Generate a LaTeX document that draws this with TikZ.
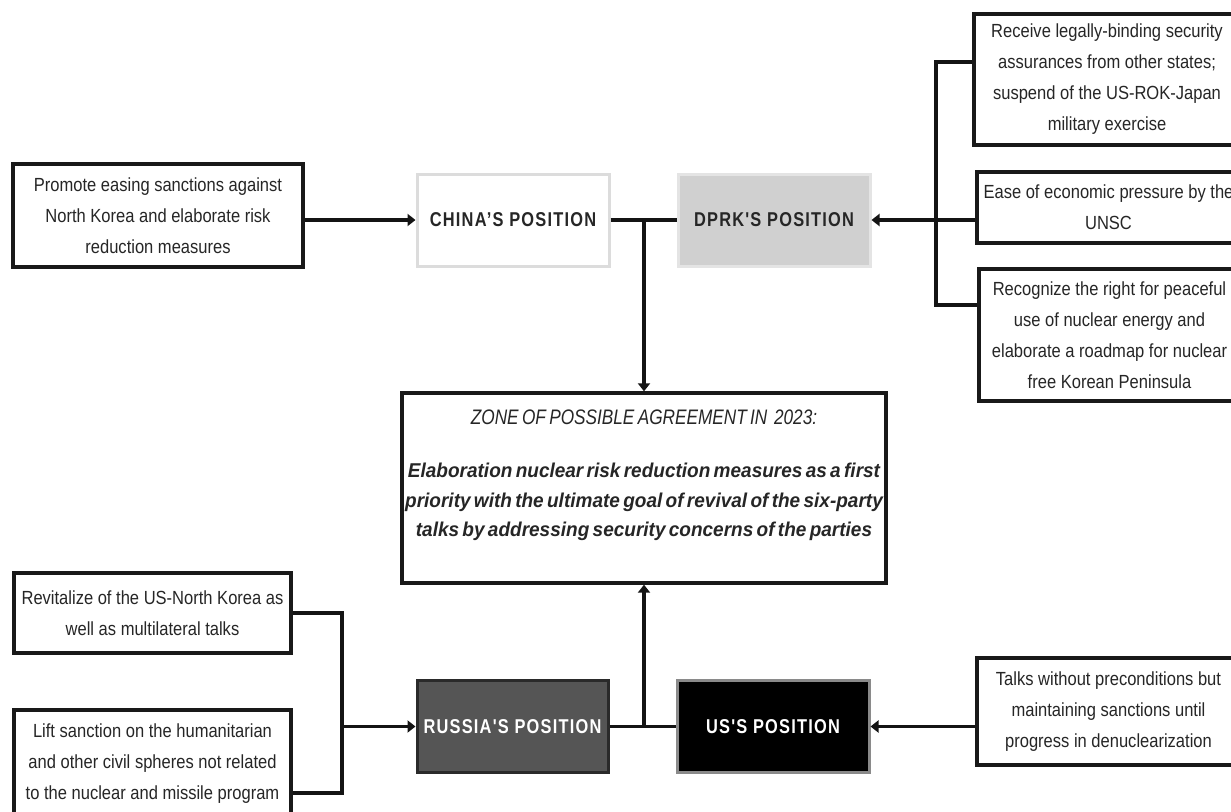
\documentclass[tikz,border=0pt]{standalone}
\usepackage{fontspec}
\setmainfont{Liberation Sans}[FakeStretch=0.87]
\newfontfamily\headfont{Liberation Sans}[FakeStretch=0.82,LetterSpace=6]
\newfontfamily\zonefont{Liberation Sans}[FakeStretch=0.95,WordSpace=0.55]
\newfontfamily\zonetitlefont{Liberation Sans}[FakeStretch=0.82]
\usetikzlibrary{arrows.meta}
\definecolor{ink}{HTML}{262626}
\definecolor{chinaline}{HTML}{DCDCDC}
\definecolor{dprkfill}{HTML}{D0D0D0}
\definecolor{dprkline}{HTML}{E4E4E4}
\definecolor{rusfill}{HTML}{555555}
\definecolor{rusline}{HTML}{2A2A2A}
\definecolor{usline}{HTML}{8A8A8A}
\begin{document}
\begin{tikzpicture}[x=1pt,y=-1pt,
  conn/.style={line width=3.2pt,draw=black!92},
  arr/.style={conn,-{Triangle[length=8pt,width=12pt]}},
  txtbox/.style={draw=black!90,line width=3.4pt,fill=white,inner sep=0pt,align=center,text=ink,font=\fontsize{19}{31}\selectfont},
  posbox/.style={inner sep=0pt,align=center,minimum width=192pt,minimum height=92pt,line width=3pt,font=\headfont\bfseries\fontsize{20}{24}\selectfont}]
\fill[white] (0,0) rectangle (1231,811);
\useasboundingbox (0,0) rectangle (1231,811);

% position boxes
\node[posbox,draw=chinaline,fill=white,text=ink] (china) at (513,220) {CHINA’S POSITION};
\node[posbox,draw=dprkline,fill=dprkfill,text=ink] (dprk) at (774,220) {DPRK'S POSITION};
\node[posbox,draw=rusline,fill=rusfill,text=white,minimum width=191pt] (russia) at (512.5,726.5) {RUSSIA'S POSITION};
\node[posbox,draw=usline,fill=black,text=white] (us) at (773,726.5) {US'S POSITION};

% text boxes
\node[txtbox,minimum width=290pt,minimum height=103pt] (promote) at (158,215.5)
  {Promote easing sanctions against\\North Korea and elaborate risk\\reduction measures};
\node[txtbox,minimum width=266pt,minimum height=131pt] (r1) at (1107,79.5)
  {Receive legally-binding security\\assurances from other states;\\suspend of the US-ROK-Japan\\military exercise};
\node[txtbox,minimum width=263pt,minimum height=71pt] (r2) at (1108.5,207.5)
  {Ease of economic pressure by the\\UNSC};
\node[txtbox,minimum width=261pt,minimum height=132pt] (r3) at (1109.5,335)
  {Recognize the right for peaceful\\use of nuclear energy and\\elaborate a roadmap for nuclear\\free Korean Peninsula};
\node[txtbox,minimum width=263pt,minimum height=107pt] (usr) at (1108.5,711.5)
  {Talks without preconditions but\\maintaining sanctions until\\progress in denuclearization};
\node[txtbox,minimum width=277pt,minimum height=80pt] (la) at (152.5,613)
  {Revitalize of the US-North Korea as\\well as multilateral talks};
\node[txtbox,minimum width=277pt,minimum height=108pt] (lb) at (152.5,764)
  {Lift sanction on the humanitarian\\and other civil spheres not related\\to the nuclear and missile program};

% zone of possible agreement
\node[draw=black!90,line width=3.4pt,fill=white,inner sep=0pt,minimum width=484pt,minimum height=190pt] (zone) at (644,488) {};
\node[inner sep=0pt,text width=480pt,align=center,text=ink] (zonetext) at (644,475)
  {\zonetitlefont\itshape\fontsize{21}{30}\selectfont ZONE OF POSSIBLE AGREEMENT IN\ \ 2023:\par
   \vspace{24pt}
   \zonefont\bfseries\itshape\fontsize{20}{29.5}\selectfont Elaboration nuclear risk reduction measures as a first\\
   priority with the ultimate goal of revival of the six-party\\
   talks by addressing security concerns of the parties\par};

% coordinates
\coordinate (b1) at (936,62);
\coordinate (dj) at (936,220);
\coordinate (b3) at (936,305);
\coordinate (lj) at (342,726.5);
\coordinate (lbj) at (342,793);

% top connectors
\draw[arr] (promote.east |- china.west) -- (china.west);
\draw[conn] (china.east) -- (dprk.west);
\draw[arr] (zone.north |- china.east) -- (zone.north);
\draw[conn] (b1 -| r1.west) -- (b1) -- (b3) -- (b3 -| r3.west);
\draw[conn] (r2.west |- dj) -- (dj);
\draw[arr] (dj) -- (dprk.east);

% bottom connectors
\draw[conn] (la.east) -| (lbj) -- (lbj -| lb.east);
\draw[arr] (lj) -- (russia.west);
\draw[conn] (russia.east) -- (us.west);
\draw[arr] (zone.south |- russia.east) -- (zone.south);
\draw[arr] (usr.west |- us.east) -- (us.east);
\end{tikzpicture}
\end{document}
